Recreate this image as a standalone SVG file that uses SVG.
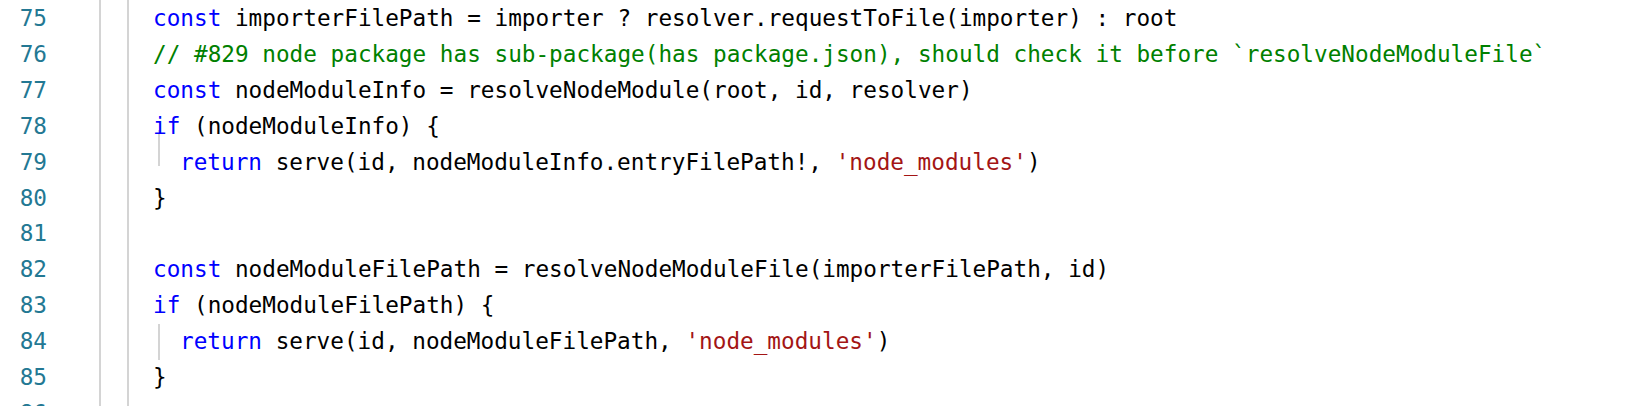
<svg xmlns="http://www.w3.org/2000/svg" width="1638" height="406" viewBox="0 0 1638 406">
<style>
text{font-family:"DejaVu Sans Mono","Liberation Mono",monospace;font-size:22.7px;white-space:pre;fill:#000}
.n{fill:#237893;text-anchor:end}
.k{fill:#0000ff}.c{fill:#008000}.s{fill:#a31515}
</style>
<rect width="1638" height="406" fill="#fff"/>
<g id="gutter" stroke="#d4d4d4" stroke-width="2">
<line x1="100" y1="0" x2="100" y2="406"/>
<line x1="128" y1="0" x2="128" y2="406"/>
<line x1="159" y1="390" x2="159" y2="406" stroke="#fff"/>
<line x1="159" y1="130" x2="159" y2="166"/>
<line x1="159" y1="324" x2="159" y2="360"/>
</g>
<g id="numbers">
<text class="n" x="47" y="26">75</text>
<text class="n" x="47" y="62">76</text>
<text class="n" x="47" y="98">77</text>
<text class="n" x="47" y="134">78</text>
<text class="n" x="47" y="170">79</text>
<text class="n" x="47" y="206">80</text>
<text class="n" x="47" y="241">81</text>
<text class="n" x="47" y="277">82</text>
<text class="n" x="47" y="313">83</text>
<text class="n" x="47" y="349">84</text>
<text class="n" x="47" y="385">85</text>
<text class="n" x="47" y="421">86</text>
</g>
<g id="code">
<text x="153" y="26"><tspan class="k">const</tspan> importerFilePath = importer ? resolver.requestToFile(importer) : root</text>
<text x="153" y="62" class="c">// #829 node package has sub-package(has package.json), should check it before `resolveNodeModuleFile`</text>
<text x="153" y="98"><tspan class="k">const</tspan> nodeModuleInfo = resolveNodeModule(root, id, resolver)</text>
<text x="153" y="134"><tspan class="k">if</tspan> (nodeModuleInfo) {</text>
<text x="180" y="170"><tspan class="k">return</tspan> serve(id, nodeModuleInfo.entryFilePath!, <tspan class="s">'node_modules'</tspan>)</text>
<text x="153" y="206">}</text>
<text x="153" y="277"><tspan class="k">const</tspan> nodeModuleFilePath = resolveNodeModuleFile(importerFilePath, id)</text>
<text x="153" y="313"><tspan class="k">if</tspan> (nodeModuleFilePath) {</text>
<text x="180" y="349"><tspan class="k">return</tspan> serve(id, nodeModuleFilePath, <tspan class="s">'node_modules'</tspan>)</text>
<text x="153" y="385">}</text>
</g>
</svg>
